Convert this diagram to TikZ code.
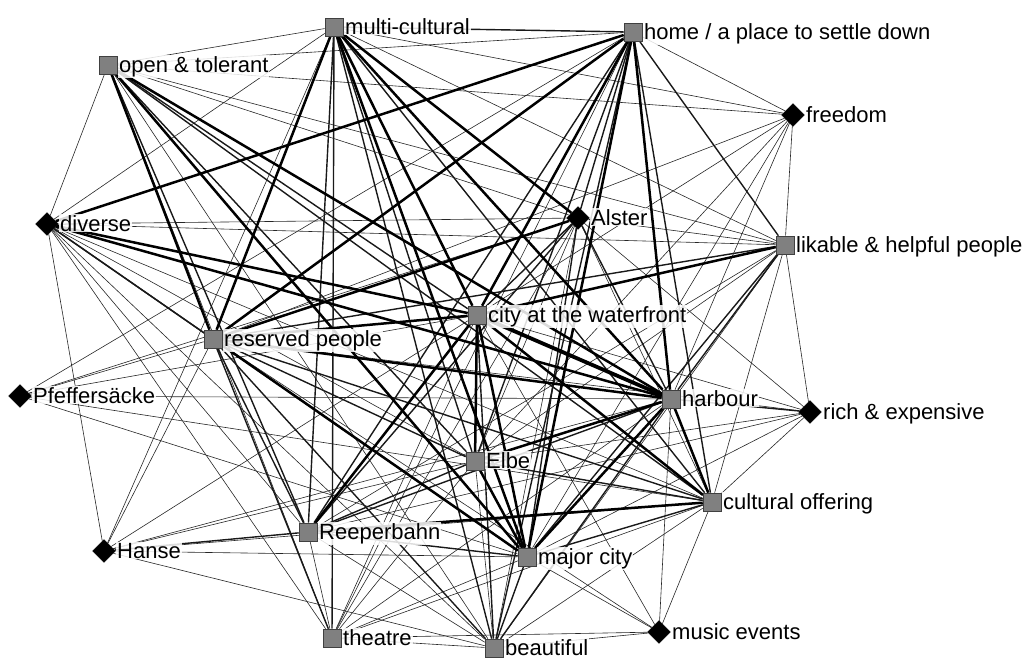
\documentclass[tikz,border=0pt]{standalone}
\usepackage{fontspec}
\setmainfont{Liberation Sans}
\usetikzlibrary{shapes.geometric}
\pgfdeclarelayer{background}
\pgfsetlayers{background,main}
\begin{document}
\begin{tikzpicture}[x=1pt,y=-1pt,
  sqr/.style={draw=black!75,fill=black!50,line width=0.6pt,minimum size=18pt,inner sep=0pt,shape=rectangle},
  dia/.style={fill=black,draw=black,shape=diamond,minimum size=23pt,inner sep=0pt},
  lab/.style={fill=white,fill opacity=0.85,text opacity=1,inner sep=1pt,font=\fontsize{22}{24}\selectfont},
  wa/.style={line width=0.6pt,black!85},
  wb/.style={line width=1.4pt,black!90},
  wc/.style={line width=2.5pt,black},
  wd/.style={line width=3.8pt,black}]
\useasboundingbox (0,0) rectangle (1025,657);
% nodes
\foreach \n/\x/\y in {MC/334/27,HO/633/32,OT/108/65,LH/785/245,CW/477/315,RP/213/339,HB/671/399,EL/475/461,CO/712/502,RB/308/532,MJ/527/557,TH/332/638,BE/494/648}
  \node[sqr] (\n) at (\x,\y) {};
\foreach \n/\x/\y in {FR/793/115,DI/47/224,AL/578/218,PF/20/396,RE/810/412,HA/104/551,ME/659/632}
  \node[dia] (\n) at (\x,\y) {};
% labels
\foreach \n/\t in {MC/multi-cultural,HO/{home / a place to settle down},OT/open \& tolerant,LH/likable \& helpful people,CW/city at the waterfront,RP/reserved people,HB/harbour,EL/Elbe,CO/cultural offering,RB/Reeperbahn,MJ/major city,TH/theatre,BE/beautiful}
  \node[lab,anchor=base west] (\n l) at ([shift={(10,7)}]\n.center) {\t};
\foreach \n/\t in {FR/freedom,DI/diverse,AL/Alster,PF/Pfeffersäcke,RE/rich \& expensive,HA/Hanse,ME/music events}
  \node[lab,anchor=base west] (\n l) at ([shift={(12,7)}]\n.center) {\t};
% edges
\begin{pgfonlayer}{background}
\foreach \a/\b in {MC/OT,MC/DI,MC/LH,MC/FR,MC/HA,HO/OT,HO/FR,HO/TH,HO/PF,OT/DI,OT/TH,OT/LH,OT/AL,OT/BE,OT/FR,
  FR/CW,FR/RP,FR/HB,FR/EL,FR/MJ,FR/LH,
  DI/AL,DI/LH,DI/EL,DI/CO,DI/RB,DI/TH,DI/BE,DI/HA,
  AL/EL,AL/CO,AL/LH,AL/BE,AL/TH,AL/PF,
  LH/EL,LH/CO,LH/RB,LH/BE,LH/RE,
  CW/TH,CW/PF,CW/HA,CW/RE,CW/ME,
  RP/PF,RP/HA,RP/RE,RP/ME,
  PF/HB,PF/MJ,PF/CO,
  HB/ME,HB/TH,HB/HA,
  RE/CO,RE/MJ,RE/EL,RE/RB,RE/AL,
  EL/BE,EL/TH,EL/HA,
  CO/BE,CO/TH,CO/ME,CO/HA,
  RB/TH,RB/BE,
  HA/MJ,HA/BE,
  MJ/TH,MJ/ME,TH/BE,TH/ME,BE/ME}
  \draw[wa] (\a) -- (\b);
\foreach \a/\b in {MC/HO,MC/TH,MC/RB,MC/EL,MC/BE,MC/CO,
  HO/EL,HO/CO,HO/LH,HO/AL,HO/BE,HO/RB,
  OT/RB,OT/CW,OT/EL,OT/CO,
  DI/RP,DI/MJ,AL/CW,AL/HB,AL/MJ,AL/RB,
  LH/RP,LH/HB,LH/MJ,
  CW/BE,RP/RB,RP/TH,RP/EL,RP/CO,RP/BE,
  HB/RB,HB/RE,HB/BE,EL/CO,EL/RB,CO/MJ,RB/HA,RB/MJ,MJ/BE}
  \draw[wb] (\a) -- (\b);
\foreach \a/\b in {MC/RP,MC/CW,MC/HB,MC/MJ,MC/AL,
  HO/DI,HO/RP,HO/CW,HO/MJ,HO/HB,
  OT/RP,OT/HB,OT/MJ,DI/CW,DI/HB,AL/RP,LH/CW,
  CW/MJ,CW/EL,CW/CO,CW/RB,CW/RP,
  RP/HB,RP/MJ,HB/MJ,HB/CO,HB/EL,EL/MJ,CO/RB}
  \draw[wc] (\a) -- (\b);
\draw[wd] (CW) -- (HB);
\end{pgfonlayer}
\end{tikzpicture}
\end{document}
